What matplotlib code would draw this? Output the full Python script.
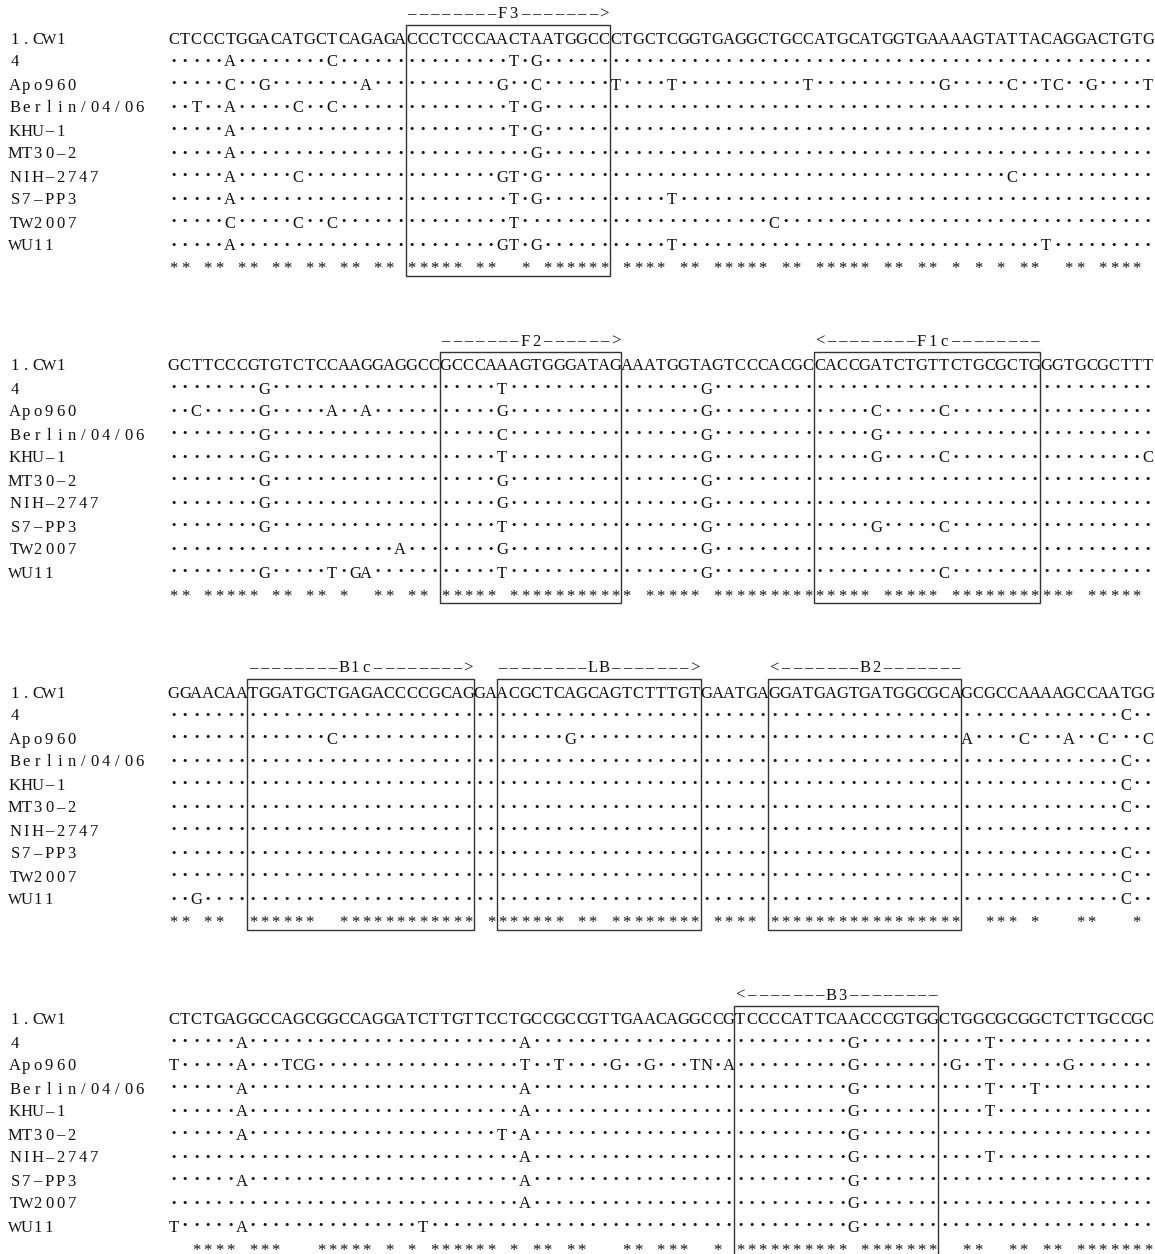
import matplotlib
matplotlib.use('Agg')
import matplotlib.pyplot as plt
from matplotlib.patches import Rectangle

# ---- data -------------------------------------------------------------
ref_name = '1.CW1'
strains = ['4', 'Apo960', 'Berlin/04/06', 'KHU-1', 'MT30-2',
           'NIH-2747', 'S7-PP3', 'TW2007', 'WU11']

ref_seq = [
    'CTCCCTGGACATGCTCAGAGACCCTCCCAACTAATGGCCCTGCTCGGTGAGGCTGCCATGCATGGTGAAAAGTATTACAGGACTGTG',
    'GCTTCCCGTGTCTCCAAGGAGGCCGCCCAAAGTGGGATAGAAATGGTAGTCCCACGCCACCGATCTGTTCTGCGCTGGGTGCGCTTT',
    'GGAACAATGGATGCTGAGACCCCGCAGGAACGCTCAGCAGTCTTTGTGAATGAGGATGAGTGATGGCGCAGCGCCAAAAGCCAATGG',
    'CTCTGAGGCCAGCGGCCAGGATCTTGTTCCTGCCGCCGTTGAACAGGCCGTCCCCATTCAACCCGTGGCTGGCGCGGCTCTTGCCGC',
]

# substitutions per strain (column + base), same order as strains
var_b1 = ['5A 14C 30T 32G',
          '5C 8G 17A 29G 32C 39T 44T 56T 68G 74C 77T 78C 81G 86T',
          '2T 5A 11C 14C 30T 32G',
          '5A 30T 32G',
          '5A 32G',
          '5A 11C 29G 30T 32G 74C',
          '5A 30T 32G 44T',
          '5C 11C 14C 30T 53C',
          '5A 29G 30T 32G 44T 77T']
var_b2 = ['8G 29T 47G',
          '2C 8G 14A 17A 29G 47G 62C 68C',
          '8G 29C 47G 62G',
          '8G 29T 47G 62G 68C 86C',
          '8G 29G 47G',
          '8G 29G 47G',
          '8G 29T 47G 62G 68C',
          '20A 29G 47G',
          '8G 14T 16G 17A 29T 47G 68C']
var_b3 = ['84C',
          '14C 35G 70A 75C 79A 82C 86C',
          '84C',
          '84C',
          '84C',
          '',
          '84C',
          '84C',
          '2G 84C']
var_b4 = ['6A 31A 60G 72T',
          '0T 6A 10T 11C 12G 31T 34T 39G 42G 46T 47N 49A 60G 69G 72T 79G',
          '6A 31A 60G 72T 76T',
          '6A 31A 60G 72T',
          '6A 29T 31A 60G',
          '31A 60G 72T',
          '6A 31A 60G',
          '31A 60G',
          '0T 6A 22T 60G']
variants = [var_b1, var_b2, var_b3, var_b4]

consensus = [
    '** ** ** ** ** ** ** ' + '***** **  * ******' +
    ' **** ** ***** ** ***** ** ** * * * **  ** **** ',
    '** ***** ** ** *  ** ** ' + '***** **********' +
    '* ***** ************** ***** *********** ***** ',
    '** **  ******  ************ ******* ** ******** **** ' +
    '*****************  *** *   **   * ',
    '  **** ***   ***** * * ****** * ** **   ** ***  * ' +
    '********** *******  **  ** ** *******',
]

# primer labels and the column where each primer starts
primers = [
    [('--------F3------->', 21)],
    [('-------F2------>', 24), ('<--------F1c--------', 57)],
    [('--------B1c-------->', 7), ('--------LB------->', 29), ('<-------B2-------', 53)],
    [('<-------B3--------', 50)],
]

# ---- layout -----------------------------------------------------------
W, H = 1155, 1254
seq_left_px = 168.0
pitch = 11.33          # px per column
name_col = -14
first_row = 38.0       # centre of first reference row
block_step = 327.0
row_step = 23.0
fam = 'Liberation Serif'
fsize = 12
base_shift = 5.5       # centre -> baseline
ink = '#111111'

# glyph tweaks to get closer to a typewriter face
glyph = {'-': '\u2013'}   # typewriter hyphen is long, draw it as a dash
special = {
    '\u00b7': dict(family=fam, fontsize=14, fontweight='bold'),
    'W': dict(family=fam, fontsize=11),
}

fig = plt.figure(figsize=(W / 100, H / 100), dpi=100)
ax = fig.add_axes([0, 0, 1, 1])
ax.set_xlim(-seq_left_px / pitch, (W - seq_left_px) / pitch)
ax.set_ylim(H, 0)
ax.axis('off')


def put(s, col, y):
    for i, c in enumerate(s):
        if c == ' ':
            continue
        kw = special.get(c, dict(family=fam, fontsize=fsize))
        ax.text(col + i + 0.5, y + base_shift, glyph.get(c, c), ha='center',
                va='baseline', color=ink, **kw)


def expand(ref, var):
    row = ['\u00b7'] * len(ref)
    for tok in var.split():
        row[int(tok[:-1])] = tok[-1]
    return ''.join(row)


for b in range(4):
    y0 = first_row + b * block_step
    ref = ref_seq[b]
    rows = [ref] + [expand(ref, v) for v in variants[b]] + [consensus[b]]
    names = [ref_name] + strains + ['']
    for k, (nm, seq) in enumerate(zip(names, rows)):
        y = y0 + k * row_step
        put(nm, name_col, y)
        put(seq, 0, y)
    for lab, start in primers[b]:
        ax.add_patch(Rectangle((start, y0 - 13), len(lab), 10 * row_step + 21,
                               fill=False, lw=1.0, ec='#333333', clip_on=False))
        put(lab, start, y0 - 25)

fig.savefig('out.png', dpi=100)
